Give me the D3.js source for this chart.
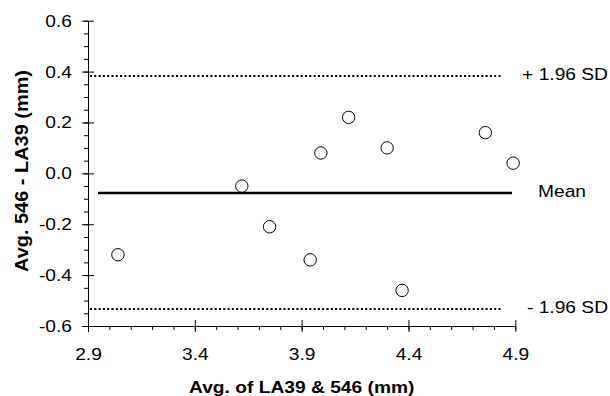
<!doctype html>
<html>

  <head>
    <meta charset="utf-8">
    <title>Bland-Altman plot</title>
    <script src="https://d3js.org/d3.v7.min.js"></script>
    <style type="text/css">
      body {
        margin: 0;
        background: #fff;
      }

      text {
        font-family: Arial, "Liberation Sans", sans-serif;
        font-size: 17px;
        fill: #000;
      }

      .title {
        font-weight: bold;
      }
    </style>
  </head>

  <body>
    <svg></svg>
    <script type="text/javascript">
      var w = 610,
        h = 396,
        stretch = 1.13;

      // points: mean of the two methods vs. their difference
      var avgValues = [3.04, 3.62, 3.75, 3.94, 3.99, 4.12, 4.30, 4.37, 4.76, 4.89];
      var diffValues = [-0.32, -0.05, -0.21, -0.34, 0.08, 0.22, 0.10, -0.46, 0.16, 0.04];

      // reference lines (mean and limits of agreement)
      var refNames = ['+ 1.96 SD', 'Mean', '- 1.96 SD'];
      var refValues = [0.382, -0.076, -0.534];
      var refStart = [2.91, 2.947, 2.91];
      var refEnd = [4.84, 4.885, 4.84];

      // axis ticks
      var xTicks = [2.9, 3.4, 3.9, 4.4, 4.9];
      var xMinorTicks = d3.range(29, 50).map(function(d) { return d / 10; });
      var yTicks = [-0.6, -0.4, -0.2, 0.0, 0.2, 0.4, 0.6];
      var yMinorTicks = d3.range(-12, 13).map(function(d) { return d / 20; });

      var xTitle = 'Avg. of LA39 & 546 (mm)';
      var yTitle = 'Avg. 546 - LA39 (mm)';

      var svg = d3.select('svg')
        .attr('width', w)
        .attr('height', h);

      var xScale = d3.scaleLinear()
        .domain([2.9, 4.9])
        .range([88, 515.3]);
      var yScale = d3.scaleLinear()
        .domain([-0.6, 0.6])
        .range([326, 20.7]);

      var fmt = function(d) { return d.toFixed(1); };

      // minor ticks first
      svg.append('g')
        .attr('transform', 'translate(0,326)')
        .call(d3.axisBottom(xScale).tickValues(xMinorTicks).tickSize(4).tickSizeOuter(0).tickFormat(''))
        .call(function(g) { g.select('.domain').remove(); });

      svg.append('g')
        .attr('transform', 'translate(88,0)')
        .call(d3.axisLeft(yScale).tickValues(yMinorTicks).tickSize(4).tickSizeOuter(0).tickFormat(''))
        .call(function(g) { g.select('.domain').remove(); });

      // major ticks cross the axis
      var gx = svg.append('g')
        .attr('transform', 'translate(0,326)')
        .call(d3.axisBottom(xScale).tickValues(xTicks).tickSizeOuter(0).tickFormat(fmt));
      gx.selectAll('.tick line').attr('y1', -6).attr('y2', 6);
      gx.selectAll('.tick text')
        .attr('y', 22)
        .attr('font-size', null)
        .attr('font-family', null)
        .attr('transform', 'scale(' + stretch + ',1)');

      var gy = svg.append('g')
        .attr('transform', 'translate(88,0)')
        .call(d3.axisLeft(yScale).tickValues(yTicks).tickSizeOuter(0).tickFormat(fmt));
      gy.selectAll('.tick line').attr('x1', -6).attr('x2', 6);
      gy.selectAll('.tick text')
        .attr('x', -16 / stretch)
        .attr('font-size', null)
        .attr('font-family', null)
        .attr('transform', 'scale(' + stretch + ',1)');

      svg.selectAll('.domain').attr('stroke', '#000');
      svg.selectAll('.tick line').attr('stroke', '#000');

      // reference lines, snapped to whole pixels so the dots stay crisp
      svg.selectAll('line.ref')
        .data(refValues)
        .enter()
        .append('line')
        .attr('class', 'ref')
        .attr('x1', function(d, i) { return Math.round(xScale(refStart[i])); })
        .attr('x2', function(d, i) { return Math.round(xScale(refEnd[i])); })
        .attr('y1', function(d) { return Math.round(yScale(d)); })
        .attr('y2', function(d) { return Math.round(yScale(d)); })
        .attr('stroke', '#000')
        .attr('stroke-width', function(d, i) { return refNames[i] == 'Mean' ? 2.5 : 2; })
        .attr('stroke-dasharray', function(d, i) { return refNames[i] == 'Mean' ? null : '2,2.3'; });

      svg.selectAll('text.ref')
        .data(refValues)
        .enter()
        .append('text')
        .attr('class', 'ref')
        .attr('text-anchor', function(d, i) { return refNames[i] == 'Mean' ? 'start' : 'end'; })
        .attr('transform', function(d, i) {
          var tx = refNames[i] == 'Mean' ? 538 : 608;
          return 'translate(' + tx + ',' + (yScale(d) + 4) + ') scale(' + stretch + ',1)';
        })
        .text(function(d, i) { return refNames[i]; });

      // points
      svg.selectAll('circle')
        .data(avgValues)
        .enter()
        .append('circle')
        .attr('cx', function(d) { return xScale(d); })
        .attr('cy', function(d, i) { return yScale(diffValues[i]); })
        .attr('r', 6.2)
        .attr('fill', '#fff')
        .attr('stroke', '#000')
        .attr('stroke-width', 1);

      // axis titles
      svg.append('text')
        .attr('class', 'title')
        .attr('text-anchor', 'middle')
        .attr('transform', 'translate(301.7,393) scale(' + stretch + ',1)')
        .text(xTitle);

      svg.append('text')
        .attr('class', 'title')
        .attr('text-anchor', 'middle')
        .attr('textLength', 202)
        .attr('lengthAdjust', 'spacingAndGlyphs')
        .attr('transform', 'translate(27.5,171) scale(' + stretch + ',1) rotate(-90)')
        .text(yTitle);
    </script>
  </body>

</html>
